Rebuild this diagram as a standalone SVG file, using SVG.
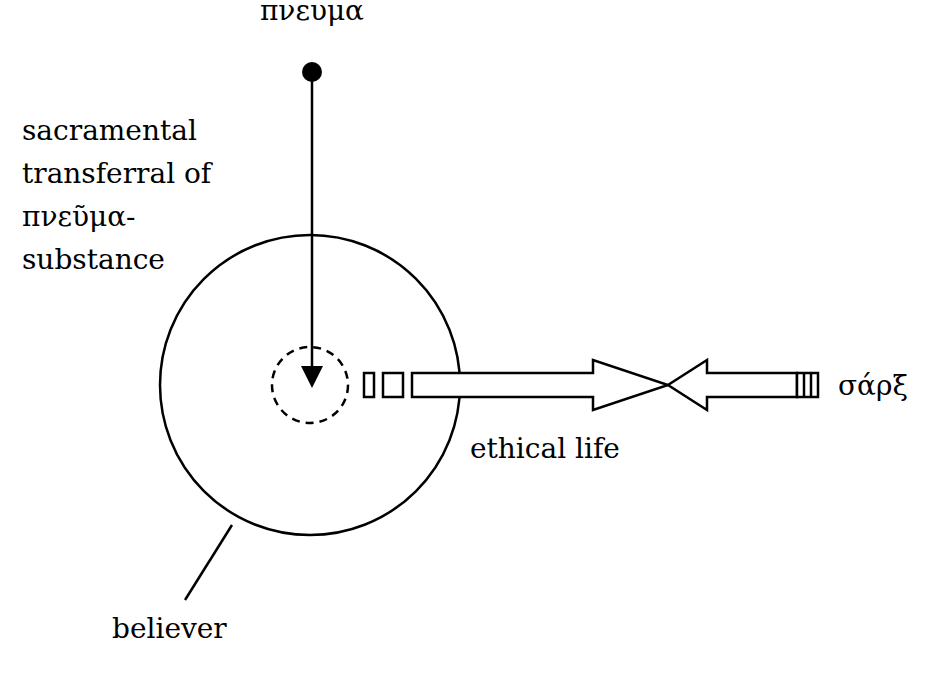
<svg xmlns="http://www.w3.org/2000/svg" width="925" height="686" viewBox="0 0 925 686">
<style>
text{font-family:'DejaVu Serif','Liberation Serif',serif;font-size:28px;fill:#000}
.s{fill:none;stroke:#000;stroke-width:2.5}
.w{fill:#fff;stroke:#000;stroke-width:2.5}
</style>
<rect width="925" height="686" fill="#fff"/>
<g id="believer"><circle class="s" cx="310" cy="385" r="150"/><text x="112" y="638">believer</text></g>
<g id="core"><circle class="s" cx="310" cy="385" r="38" stroke-dasharray="8,6"/></g>
<g id="pneuma"><circle cx="312" cy="72" r="10"/><text x="312" y="20" text-anchor="middle">πνευμα</text></g>
<g id="label"><text x="22" y="140">sacramental</text><text x="22" y="183">transferral of</text><text x="22" y="226">πνεῦμα-</text><text x="22" y="269">substance</text></g>
<g id="sarx"><text x="838" y="395">σάρξ</text></g>
<g id="ethical"><text x="470" y="458">ethical life</text></g>
<g id="connectors">
<line class="s" x1="312" y1="72" x2="312" y2="368"/>
<polygon points="301,366 323,366 312,388" fill="#000"/>
<rect class="w" x="364" y="373" width="10" height="24"/>
<rect class="w" x="383" y="373" width="20" height="24"/>
<polygon class="w" points="412,373 593,373 593,360 668,385 593,410 593,397 412,397"/>
<polygon class="w" points="797,373 707,373 707,360 668,385 707,410 707,397 797,397"/>
<rect class="w" x="797" y="373" width="21" height="24"/>
<line class="s" x1="804" y1="373" x2="804" y2="397"/>
<line class="s" x1="811" y1="373" x2="811" y2="397"/>
<line class="s" x1="232" y1="525" x2="185" y2="600"/>
</g>
</svg>
